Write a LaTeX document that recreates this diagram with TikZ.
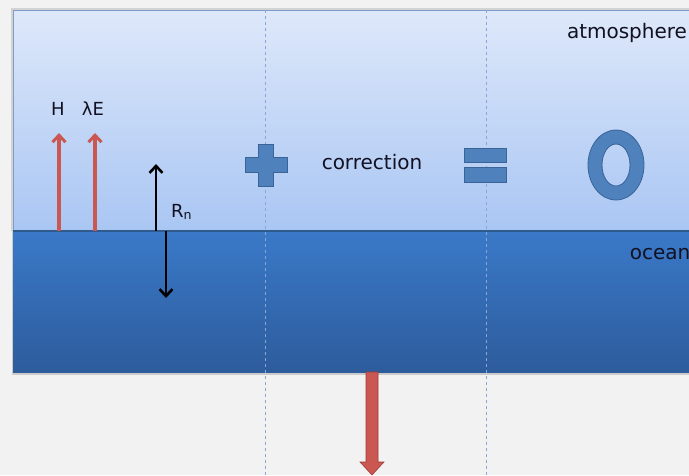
\documentclass[tikz,border=0pt]{standalone}
\usepackage{fontspec}
\setmainfont{DejaVu Sans}
\usetikzlibrary{arrows.meta}
\definecolor{bgc}{HTML}{F2F2F2}
\definecolor{atmtop}{HTML}{DEE8FA}
\definecolor{atmbot}{HTML}{A9C6F3}
\definecolor{ocntop}{HTML}{3A79C8}
\definecolor{ocnbot}{HTML}{2D5C9C}
\definecolor{edgec}{HTML}{7F9CC6}
\definecolor{surfc}{HTML}{2F5A8E}
\definecolor{dashc}{HTML}{8AA6D6}
\definecolor{symfill}{HTML}{4F81BD}
\definecolor{symedge}{HTML}{3A6498}
\definecolor{redc}{HTML}{CB5752}
\definecolor{redd}{HTML}{9E3B38}
\definecolor{textc}{HTML}{111122}
\tikzset{
  bigtext/.style={font=\fontsize{20}{24}\selectfont, text=textc, inner sep=0pt},
  midtext/.style={font=\fontsize{18}{22}\selectfont, text=textc, inner sep=0pt},
  sym/.style={fill=symfill, draw=symedge, line width=0.8pt},
  fluxarrow/.style={draw=redc, line width=3.4pt, -{Straight Barb[length=7pt,width=13pt,line width=3pt]}},
  radarrow/.style={draw=black, line width=2.6pt, -{Straight Barb[length=7pt,width=13pt,line width=2.6pt]}},
  divider/.style={draw=dashc, line width=0.9pt, dash pattern=on 3pt off 3pt}
}
\begin{document}
\begin{tikzpicture}[x=1pt,y=-1pt]
\useasboundingbox (0,0) rectangle (689,475);
\fill[bgc] (0,0) rectangle (689,475);
% shadows
\fill[black!25, opacity=0.6] (11,8) rectangle (689,231);
\fill[black!30, opacity=0.6] (12,231) rectangle (689,375);
% atmosphere
\shade[top color=atmtop, bottom color=atmbot] (13,10) rectangle (690,231);
\draw[edgec, line width=0.8pt] (13,231) -- (13,10) -- (690,10);
% ocean
\shade[top color=ocntop, bottom color=ocnbot] (13,231) rectangle (690,372);
\draw[surfc, line width=1.2pt] (13,231) -- (690,231);
% dividers
\draw[divider] (265,10) -- (265,475);
\draw[divider] (486,10) -- (486,475);
% texts
\node[bigtext] (atm) at (627,33) {atmosphere};
\node[bigtext] (ocn) at (660,254) {ocean};
\node[bigtext] (corr) at (372,162) {correction};
\node[midtext] (H) at (58,109) {H};
\node[midtext] (LE) at (93,109) {λE};
\node[midtext, anchor=base west] (Rn) at (171,217) {R\textsubscript{n}};
% flux arrows
\coordinate (h0) at (59,231); \coordinate (h1) at (59,133);
\coordinate (l0) at (95,231); \coordinate (l1) at (95,133);
\draw[fluxarrow] (h0) -- (h1);
\draw[fluxarrow] (l0) -- (l1);
\coordinate (r0) at (156,231); \coordinate (r1) at (156,164);
\coordinate (s0) at (166,231); \coordinate (s1) at (166,298);
\draw[radarrow] (r0) -- (r1);
\draw[radarrow] (s0) -- (s1);
% plus
\filldraw[sym] (258,144) -- (273,144) -- (273,157) -- (287,157) -- (287,172) -- (273,172) -- (273,186) -- (258,186) -- (258,172) -- (245,172) -- (245,157) -- (258,157) -- cycle;
% equals
\filldraw[sym] (464,148) rectangle (506,162);
\filldraw[sym] (464,167) rectangle (506,182);
% zero
\filldraw[sym, even odd rule] (616,165) ellipse [x radius=28, y radius=35] (616,165) ellipse [x radius=14, y radius=21];
% big red arrow
\filldraw[fill=redc, draw=redd, line width=0.6pt] (366,372) -- (378,372) -- (378,462) -- (384,462) -- (372,475) -- (360,462) -- (366,462) -- cycle;
\end{tikzpicture}
\end{document}
